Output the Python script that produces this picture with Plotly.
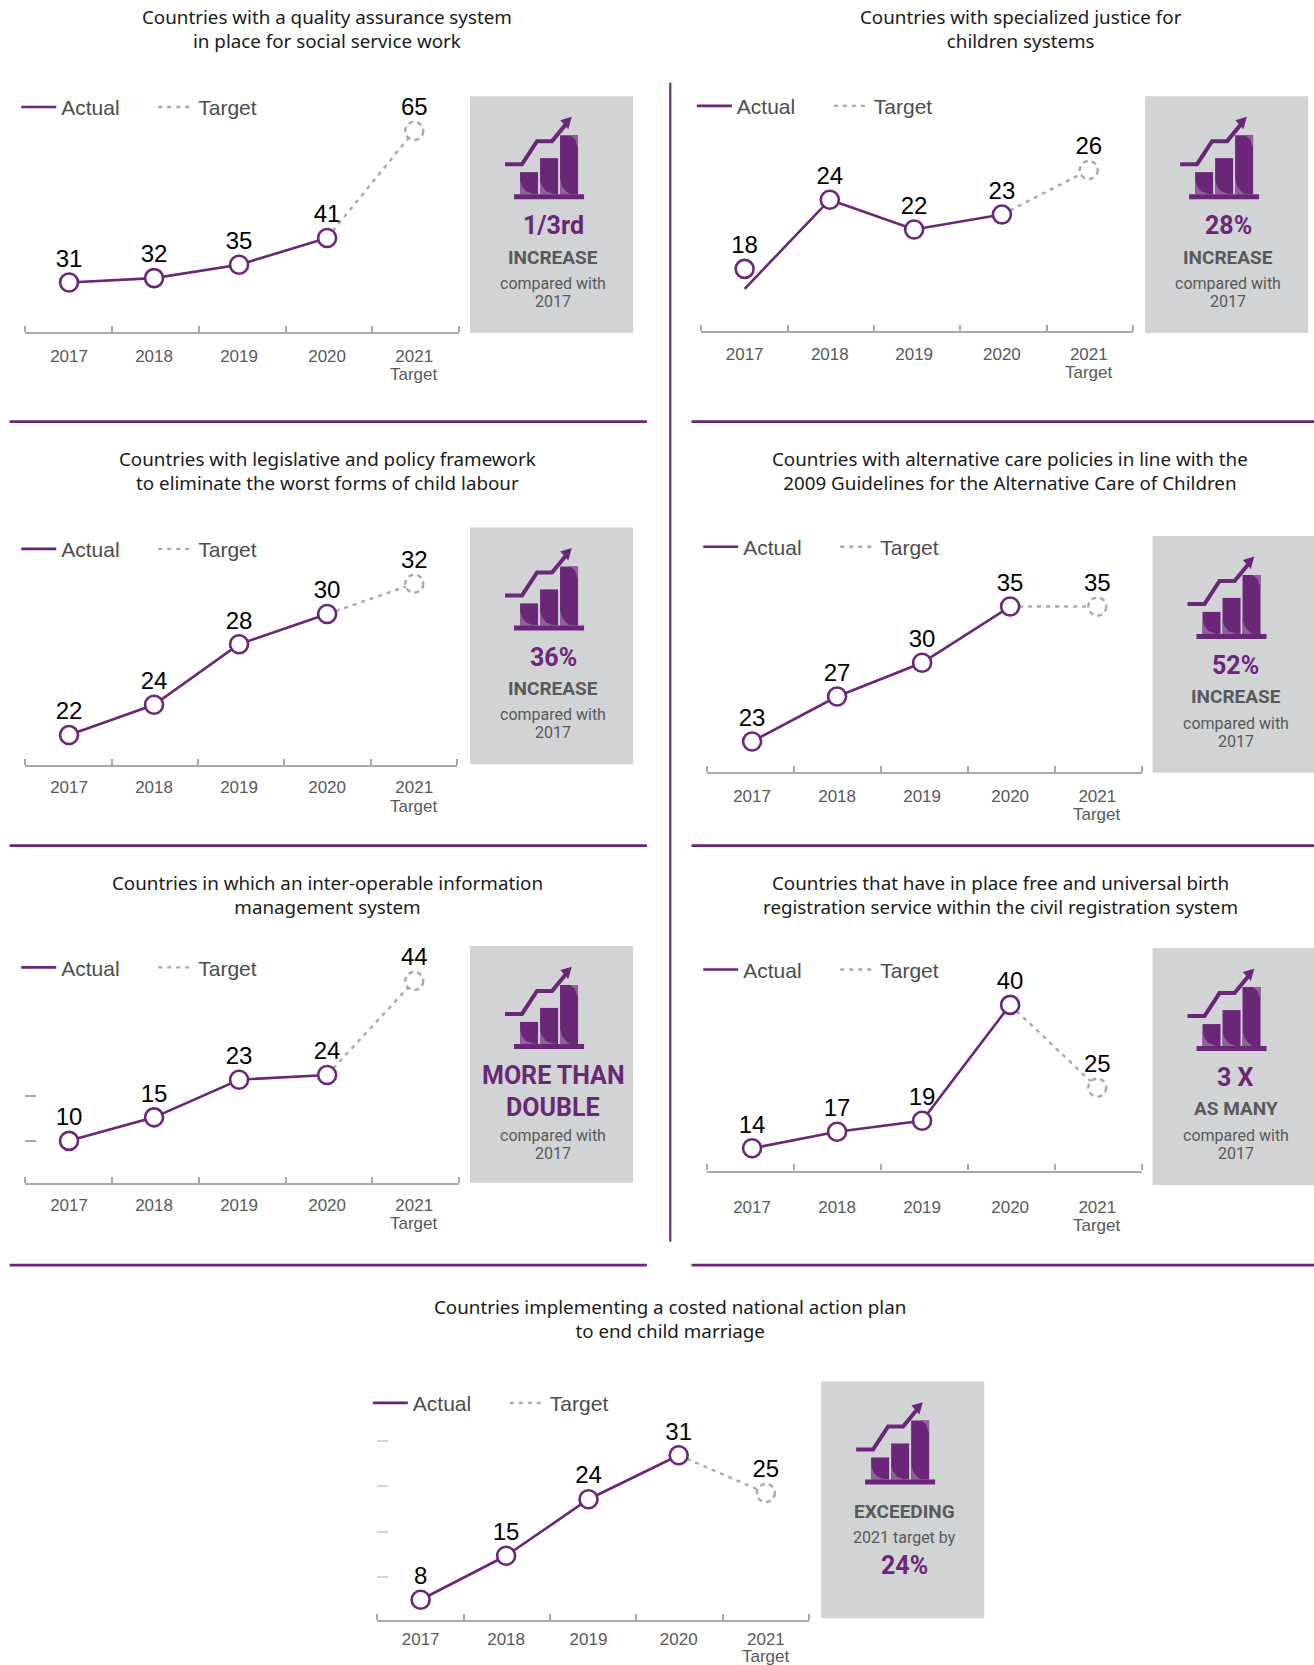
import plotly.graph_objects as go

# ---------- data ----------
YEARS = [2017, 2018, 2019, 2020, 2021]
P1_ACTUAL = [31, 32, 35, 41]
P1_TARGET = 65
P2_ACTUAL = [18, 24, 22, 23]
P2_TARGET = 26
P3_ACTUAL = [22, 24, 28, 30]
P3_TARGET = 32
P4_ACTUAL = [23, 27, 30, 35]
P4_TARGET = 35
P5_ACTUAL = [10, 15, 23, 24]
P5_TARGET = 44
P6_ACTUAL = [14, 17, 19, 40]
P6_TARGET = 25
P7_ACTUAL = [8, 15, 24, 31]
P7_TARGET = 25

TICK_LABELS = ["2017", "2018", "2019", "2020", "2021"]
TITLES = [
    "Countries with a quality assurance system<br>in place for social service work",
    "Countries with specialized justice for<br>children systems",
    "Countries with legislative and policy framework<br>to eliminate the worst forms of child labour",
    "Countries with alternative care policies in line with the<br>2009 Guidelines for the Alternative Care of Children",
    "Countries in which an inter-operable information<br>management system",
    "Countries that have in place free and universal birth<br>registration service within the civil registration system",
    "Countries implementing a costed national action plan<br>to end child marriage",
]

# ---------- style ----------
PURPLE = "#6a2778"
LIGHT_PURPLE = "#8f6199"
GREY_LINE = "#a7a9ac"
GREY_DASH = "#a7a9ac"
BOX = "#d1d3d4"
TEXT_GREY = "#58595b"
LEGEND_GREY = "#4d4d4f"
SANS = "Liberation Sans"
TITLE_FONT = "Noto Sans"
CALLOUT = "Roboto"
W, H = 1314, 1665
K = W / 1237.0  # geometry below was measured on the 1237-wide view


def fx(p):
    return p * K / W


def fy(p):
    return 1 - p * K / H


# Per-panel geometry (view pixels)
PANELS = [
    dict(actual=P1_ACTUAL, target=P1_TARGET, title_x=308, title_y=17, legend_x=19, legend_y=101,
         axis=(24, 432, 313), x17=65, x21=390, nudge=[0, -.015, -.03, -.01, 0], anchors=((31, 266), (41, 224)),
         box=(442.5, 90.5), lbl=["1/3rd", "INCREASE", "compared with", "2017"], off=22, gap=18),
    dict(actual=P2_ACTUAL, target=P2_TARGET, title_x=961, title_y=17, legend_x=655, legend_y=100,
         axis=(660, 1067, 312), x17=701, x21=1025, nudge=[0, -.01, -.03, -.01, 0], anchors=((24, 188), (22, 216)),
         box=(1078, 90.5), lbl=["28%", "INCREASE", "compared with", "2017"], off=21, gap=18),
    dict(actual=P3_ACTUAL, target=P3_TARGET, title_x=308, title_y=433, legend_x=19, legend_y=517,
         axis=(24, 430, 720), x17=65, x21=390, nudge=[0, -.015, -.03, -.01, 0], anchors=((22, 692), (30, 578)),
         box=(442.5, 496.5), lbl=["36%", "INCREASE", "compared with", "2017"], off=21, gap=18),
    dict(actual=P4_ACTUAL, target=P4_TARGET, title_x=951, title_y=433, legend_x=661, legend_y=515,
         axis=(666, 1075, 727), x17=708, x21=1033, nudge=[0, -.015, -.03, -.01, 0], anchors=((23, 698), (35, 571)),
         box=(1085, 504.5), lbl=["52%", "INCREASE", "compared with", "2017"], off=22, gap=18),
    dict(actual=P5_ACTUAL, target=P5_TARGET, title_x=308, title_y=833, legend_x=19, legend_y=911,
         axis=(24, 432, 1114), x17=65, x21=390, nudge=[0, -.015, -.03, -.01, 0], anchors=((10, 1074), (24, 1012)),
         box=(442.5, 890.5), lbl=["MORE THAN", "DOUBLE", "compared with", "2017"], big2=True,
         yticks=[10, 19.6], ytick_color=GREY_LINE, off=20, gap=18),
    dict(actual=P6_ACTUAL, target=P6_TARGET, title_x=942, title_y=833, legend_x=661, legend_y=913,
         axis=(666, 1075, 1102), x17=708, x21=1033, nudge=[0, -.015, -.03, -.01, 0], anchors=((14, 1081), (40, 946)),
         box=(1085, 892.5), lbl=["3 X", "AS MANY", "compared with", "2017"], off=34, gap=18),
    dict(actual=P7_ACTUAL, target=P7_TARGET, title_x=631, title_y=1232, legend_x=350, legend_y=1321,
         axis=(355, 762, 1525), x17=396, x21=721, nudge=[0, -.01, -.055, -.01, 0], anchors=((8, 1506), (31, 1370)),
         box=(773, 1300.5), lbl=None, yticks=[11.7, 18.8, 26.1, 33.2], ytick_color="#d1d3d4", off=17.5, gap=17),
]
# The 2017 circle of panel 2 sits above the start of its line in the original
P2_MARKER_2017 = 19.35

fig = go.Figure()
shapes, annos = [], []


def text(x, y, s, size, color="#000", family=SANS, bold=False):
    annos.append(dict(xref="paper", yref="paper", x=fx(x), y=fy(y), text=f"<b>{s}</b>" if bold else s,
                      showarrow=False, xanchor="center", yanchor="middle",
                      font=dict(size=size, color=color, family=family)))


def rect(x0, y0, x1, y1, color, layer="below"):
    shapes.append(dict(type="rect", xref="paper", yref="paper", x0=fx(x0), x1=fx(x1), y0=fy(y0), y1=fy(y1),
                       fillcolor=color, line_width=0, layer=layer))


def poly(points, color=None, line=None, width=0):
    d = "M" + " L".join(f"{fx(a):.5f},{fy(b):.5f}" for a, b in points)
    if color:
        d += " Z"
    shapes.append(dict(type="path", xref="paper", yref="paper", path=d, fillcolor=color or "rgba(0,0,0,0)",
                       line=dict(color=line or "rgba(0,0,0,0)", width=width), layer="above"))


def icon(bx, by):
    # offsets in full-size px from the box's top-left, converted to view px
    u = lambda a, b: (bx + a / K, by + b / K)
    for x0, top in ((50, 76), (70, 62), (90, 39)):
        a = u(x0, top)
        b = u(x0 + 18, 98)
        rect(a[0], a[1], b[0], b[1], PURPLE, "above")
    for x0 in (50, 70):
        poly([u(x0, 84), u(x0 + 2, 90), u(x0 + 6, 95), u(x0 + 14, 98), u(x0, 98)], LIGHT_PURPLE)
    poly([u(90, 82), u(92, 90), u(96, 95), u(100, 98), u(90, 98)], LIGHT_PURPLE)
    poly([u(100, 39), u(105, 43), u(108, 52), u(108, 39)], LIGHT_PURPLE)
    a = u(44, 98)
    b = u(114, 103)
    rect(a[0], a[1], b[0], b[1], PURPLE, "above")
    poly([u(35, 68), u(52, 68), u(67, 45), u(82, 45), u(96, 28)], line=PURPLE, width=4)
    poly([u(101.7, 20.7), u(90.3, 24), u(98.3, 33)], PURPLE)


layout = {}
for i, p in enumerate(PANELS):
    n = "" if i == 0 else str(i + 1)
    x0, x1, ay = p["axis"]
    # linear value-to-pixel scale for this panel's y axis
    (v1, y1), (v2, y2) = p["anchors"]
    per = (y1 - y2) / (v2 - v1)
    top = ay - 230
    yrange = [v1 - (ay - y1) / per, v1 + (y1 - top) / per]
    # x axis in year units
    step = (p["x21"] - p["x17"]) / 4
    xrange = [2017 + (x0 - p["x17"]) / step, 2017 + (x1 - p["x17"]) / step]
    xs = [yr + d for yr, d in zip(YEARS, p["nudge"])]
    bounds = [xrange[0] + k * (xrange[1] - xrange[0]) / 5 for k in range(6)]

    layout[f"xaxis{n}"] = dict(domain=[fx(x0), fx(x1)], range=xrange, anchor=f"y{n}", showgrid=False, zeroline=False,
                               automargin=False,
                               showline=True, linecolor=GREY_LINE, linewidth=2.4, ticks="", tickmode="array",
                               tickvals=xs, ticktext=TICK_LABELS, ticklabelstandoff=round(9 + (p["off"] - 24) * K),
                               tickfont=dict(size=17, color=TEXT_GREY, family=SANS),
                               minor=dict(ticks="inside", ticklen=6, tickwidth=2, tickcolor=GREY_LINE,
                                          tickmode="array", tickvals=bounds, showgrid=False))
    yt = p.get("yticks", [])
    layout[f"yaxis{n}"] = dict(domain=[fy(ay), fy(top)], range=yrange, anchor=f"x{n}", showgrid=False, zeroline=False,
                               automargin=False,
                               showline=False, tickmode="array", tickvals=yt, ticktext=[""] * len(yt),
                               ticks="inside" if yt else "", ticklen=11, tickwidth=2,
                               tickcolor=p.get("ytick_color", GREY_LINE))

    lg = "legend" + n
    layout[lg] = dict(x=fx(p["legend_x"] + 1) - 5 / W, y=fy(p["legend_y"]), xanchor="left", yanchor="middle",
                      orientation="h", bgcolor="rgba(0,0,0,0)", borderwidth=0, entrywidth=87, itemwidth=35,
                      entrywidthmode="pixels", font=dict(size=21, color=LEGEND_GREY, family=SANS), itemclick=False,
                      itemdoubleclick=False, traceorder="normal")

    ax = dict(xaxis="x" + n, yaxis="y" + n)
    actual = p["actual"]
    target = p["target"]
    fig.add_trace(go.Scatter(x=xs[:4], y=actual, mode="lines", name="Actual", legend=lg, cliponaxis=False,
                             line=dict(color=PURPLE, width=2.6), **ax))
    fig.add_trace(go.Scatter(x=xs[3:], y=[actual[3], target], mode="lines", name="Target", legend=lg, cliponaxis=False,
                             line=dict(color=GREY_DASH, width=2.4, dash="4px,5px"), **ax))
    marker_y = list(actual)
    if i == 1:
        marker_y[0] = P2_MARKER_2017
    fig.add_trace(go.Scatter(x=xs[:4], y=marker_y, mode="markers", showlegend=False, cliponaxis=False,
                             marker=dict(size=18, color="#fff", line=dict(color=PURPLE, width=2.6)), **ax))
    # value labels: an invisible marker sets how far above the point the text sits
    fig.add_trace(go.Scatter(x=xs, y=marker_y + [target], mode="markers+text",
                             text=[str(v) for v in actual + [target]], textposition="top center",
                             showlegend=False, cliponaxis=False,
                             textfont=dict(size=24, color="#000", family=SANS),
                             marker=dict(size=14, color="rgba(0,0,0,0)", line=dict(width=0)), **ax))
    shapes.append(dict(type="circle", xref="x" + n, yref="y" + n, xsizemode="pixel", ysizemode="pixel",
                       xanchor=xs[4], yanchor=target, x0=-9, x1=9, y0=-9, y1=9, fillcolor="#fff",
                       line=dict(color=GREY_DASH, width=2.4, dash="5px,4px"), layer="above"))
    # second line of the last tick label
    annos.append(dict(xref="x" + n, yref="paper", x=xs[4], y=fy(ay + p["off"] + p["gap"]),
                      text="Target", showarrow=False, xanchor="center", yanchor="middle",
                      font=dict(size=17, color=TEXT_GREY, family=SANS)))

    # title
    text(p["title_x"], p["title_y"] + 10, TITLES[i], 18.8, "#1a1a1a", TITLE_FONT)

    # call-out box
    bx, by = p["box"]
    rect(bx, by, bx + 153.5, by + 223, BOX)
    icon(bx, by)
    cx = bx + 78.5
    lbl = p["lbl"]
    if lbl is None:
        text(cx, by + 122.5, "EXCEEDING", 19, TEXT_GREY, CALLOUT, True)
        text(cx, by + 146.5, "2021 target by", 16, TEXT_GREY, CALLOUT)
        text(cx, by + 173.5, "24%", 25, PURPLE, CALLOUT, True)
    elif p.get("big2"):
        text(cx, by + 122, lbl[0], 25, PURPLE, CALLOUT, True)
        text(cx, by + 152, lbl[1], 25, PURPLE, CALLOUT, True)
        text(cx, by + 178, lbl[2], 16, TEXT_GREY, CALLOUT)
        text(cx, by + 195.5, lbl[3], 16, TEXT_GREY, CALLOUT)
    else:
        text(cx, by + 122, lbl[0], 25, PURPLE, CALLOUT, True)
        text(cx, by + 151.5, lbl[1], 19, TEXT_GREY, CALLOUT, True)
        text(cx, by + 176.5, lbl[2], 16, TEXT_GREY, CALLOUT)
        text(cx, by + 193.5, lbl[3], 16, TEXT_GREY, CALLOUT)

# divider rules
for x0, x1, y in [(9, 609, 397), (651, 1237, 397), (9, 609, 796), (651, 1237, 796), (9, 609, 1191), (651, 1237, 1191)]:
    rect(x0, y - 1.3, x1, y + 1.3, PURPLE)
rect(630, 78, 632, 1169, PURPLE)

fig.update_layout(width=W, height=H, margin=dict(l=0, r=0, t=0, b=0), autosize=False, paper_bgcolor="#fff",
                  plot_bgcolor="rgba(0,0,0,0)", shapes=shapes, annotations=annos, **layout)

fig.write_html("out.html", config=dict(displayModeBar=False),
               post_script="document.body.style.margin='0';document.body.style.overflow='hidden';")
